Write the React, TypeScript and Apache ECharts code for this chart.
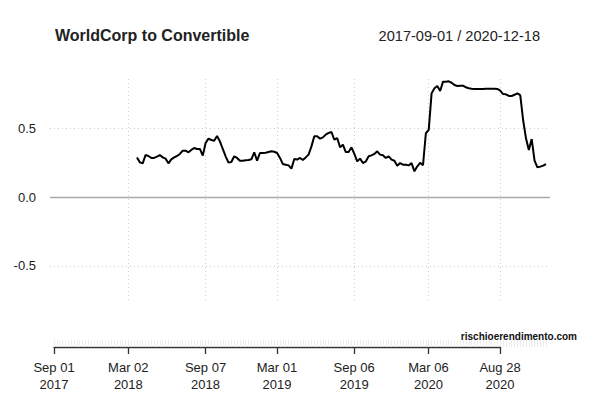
import { useEffect, useRef } from 'react';
import * as echarts from 'echarts';

// weekly observations, index 0 = 2017-09-01, index 172 = 2020-12-18
const firstIndex = 29;
const correlation = [
  0.287, 0.251, 0.244, 0.304, 0.297, 0.283, 0.283, 0.292, 0.304, 0.287,
  0.278, 0.244, 0.273, 0.287, 0.297, 0.312, 0.336, 0.336, 0.324, 0.341,
  0.355, 0.348, 0.348, 0.300, 0.391, 0.423, 0.413, 0.408, 0.442, 0.403,
  0.348, 0.295, 0.249, 0.254, 0.295, 0.283, 0.263, 0.263, 0.266, 0.268,
  0.273, 0.324, 0.263, 0.319, 0.319, 0.321, 0.326, 0.331, 0.328, 0.319,
  0.283, 0.239, 0.234, 0.229, 0.205, 0.275, 0.271, 0.283, 0.268, 0.287,
  0.307, 0.367, 0.440, 0.440, 0.423, 0.432, 0.452, 0.464, 0.471, 0.415,
  0.427, 0.360, 0.379, 0.326, 0.326, 0.360, 0.312, 0.258, 0.278, 0.246,
  0.258, 0.295, 0.302, 0.312, 0.331, 0.307, 0.302, 0.283, 0.295, 0.271,
  0.263, 0.227, 0.246, 0.234, 0.234, 0.229, 0.246, 0.186, 0.222, 0.248,
  0.230, 0.462, 0.487, 0.751, 0.788, 0.804, 0.768, 0.836, 0.836, 0.838,
  0.828, 0.812, 0.804, 0.807, 0.807, 0.795, 0.788, 0.785, 0.783, 0.783,
  0.783, 0.783, 0.785, 0.785, 0.785, 0.785, 0.783, 0.771, 0.746, 0.744,
  0.732, 0.732, 0.741, 0.751, 0.739, 0.558, 0.425, 0.341, 0.420, 0.263,
  0.215, 0.220, 0.227, 0.239,
];
const lastIndex = 172;

const tickIndex = [0, 26, 53, 78, 105, 131, 156];
const tickLabels = [
  'Sep 01\n2017', 'Mar 02\n2018', 'Sep 07\n2018', 'Mar 01\n2019',
  'Sep 06\n2019', 'Mar 06\n2020', 'Aug 28\n2020',
];
const yTicks = [-0.5, 0, 0.5];

const FONT = '"Liberation Sans", Arial, Helvetica, sans-serif';

export default function App() {
  const chartRef = useRef<HTMLDivElement>(null);

  useEffect(() => {
    const chart = echarts.init(chartRef.current, null, { renderer: 'svg' });
    const data = correlation.map((v, k) => [firstIndex + k, v]);
    const weeks: number[] = [];
    for (let i = 0; i <= lastIndex; i++) weeks.push(i);

    const dotted = { color: '#cfcfcf', width: 1, type: [1, 3] };

    const option = {
      animation: false,
      backgroundColor: '#fff',
      textStyle: { fontFamily: FONT },
      title: [
        {
          text: 'WorldCorp to Convertible',
          left: 50,
          top: 22,
          textStyle: { fontFamily: FONT, fontSize: 16, fontWeight: 'bold', color: '#222' },
        },
        {
          text: '2017-09-01 / 2020-12-18',
          right: 55,
          top: 23,
          textStyle: { fontFamily: FONT, fontSize: 14.6, fontWeight: 'normal', color: '#222' },
        },
      ],
      graphic: [
        {
          type: 'text',
          right: 23,
          top: 331,
          style: {
            text: 'rischioerendimento.com',
            font: `bold 10px ${FONT}`,
            fill: '#111',
          },
        },
      ],
      grid: [
        { left: 50, right: 50, top: 77, height: 223 },
        { left: 54, right: 54, top: 340, height: 7 },
        { left: 54, width: 446, top: 340, height: 7 },
      ],
      xAxis: [
        { gridIndex: 0, type: 'value', min: -1.4, max: 173.4, show: false },
        {
          gridIndex: 1,
          type: 'value',
          min: 0,
          max: lastIndex,
          axisLine: { show: false },
          axisTick: { show: true, inside: true, length: 7, customValues: weeks, lineStyle: { color: '#ececec' } },
          axisLabel: { show: false },
          splitLine: { show: false },
        },
        {
          gridIndex: 2,
          type: 'value',
          min: 0,
          max: tickIndex[tickIndex.length - 1],
          axisLine: { show: true, lineStyle: { color: '#333', width: 1.3 } },
          axisTick: { show: true, length: 7, customValues: tickIndex, lineStyle: { color: '#333', width: 1.3 } },
          axisLabel: {
            customValues: tickIndex,
            formatter: (v: number) => tickLabels[tickIndex.indexOf(v)] ?? '',
            fontFamily: FONT,
            fontSize: 13,
            lineHeight: 17,
            color: '#222',
            margin: 12,
          },
          splitLine: { show: false },
        },
      ],
      yAxis: [
        {
          gridIndex: 0,
          type: 'value',
          min: -0.7464,
          max: 0.8696,
          axisLine: { show: false },
          axisTick: { show: false },
          splitLine: { show: false },
          axisLabel: {
            customValues: yTicks,
            formatter: (v: number) => v.toFixed(1),
            fontFamily: FONT,
            fontSize: 13,
            color: '#222',
            margin: 14,
          },
        },
        { gridIndex: 1, type: 'value', show: false },
        { gridIndex: 2, type: 'value', show: false },
      ],
      series: [
        {
          type: 'line',
          xAxisIndex: 0,
          yAxisIndex: 0,
          data,
          showSymbol: false,
          lineStyle: { color: '#000', width: 2 },
          z: 5,
          markLine: {
            silent: true,
            symbol: 'none',
            label: { show: false },
            data: [
              ...tickIndex.slice(1).map((i) => ({ xAxis: i, lineStyle: dotted })),
              { yAxis: 0.5, lineStyle: dotted },
              { yAxis: -0.5, lineStyle: dotted },
              { yAxis: 0, lineStyle: { color: '#a9a9a9', width: 1.3, type: 'solid' } },
            ],
          },
        },
      ],
    };

    chart.setOption(option);
    return () => {
      chart.dispose();
    };
  }, []);

  return (
    <div
      ref={chartRef}
      style={{ position: 'absolute', left: 0, top: 0, width: '600px', height: '400px' }}
    />
  );
}
